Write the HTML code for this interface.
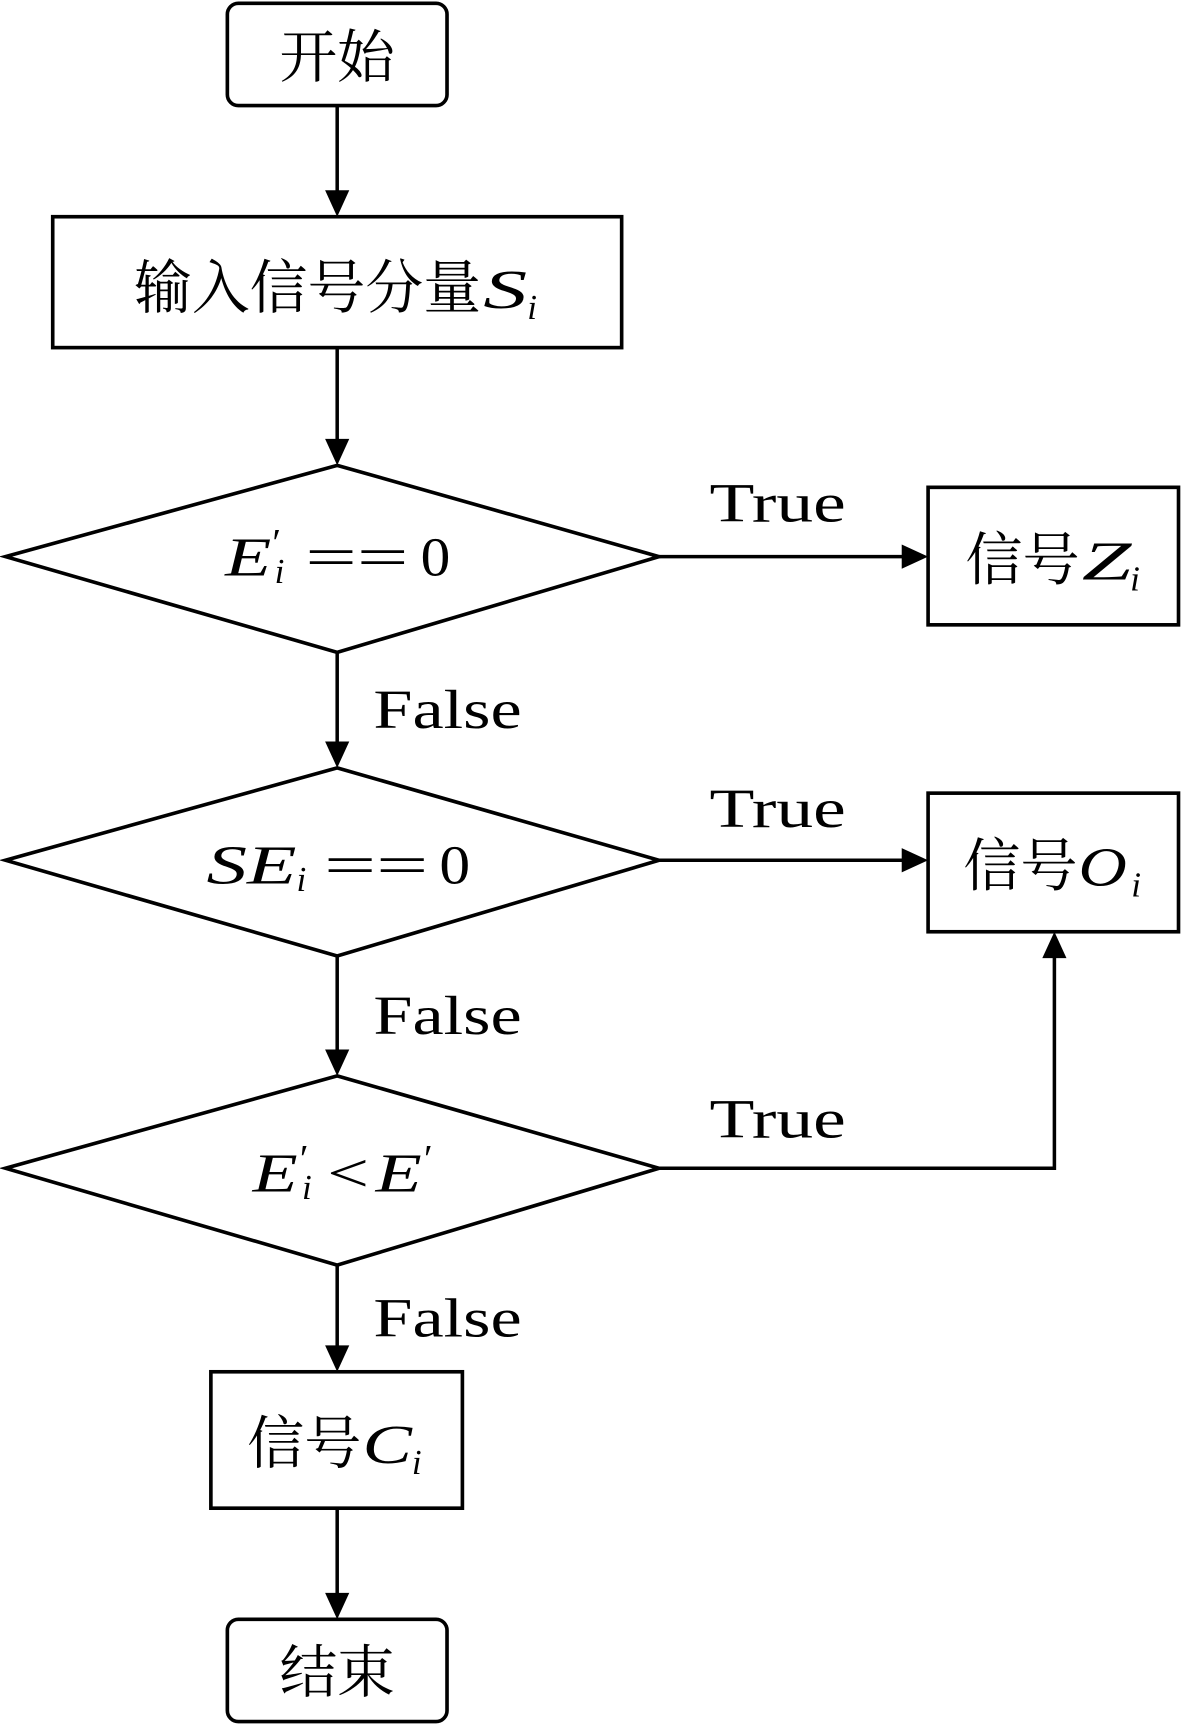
<!DOCTYPE html>
<html><head><meta charset="utf-8"><style>
html,body{margin:0;padding:0;background:#fff;}
svg{display:block;}
text{font-family:"Liberation Serif","Noto Serif CJK SC",serif;fill:#000;}
.i{font-style:italic;}
</style></head><body>
<svg width="1184" height="1726" viewBox="0 0 1078 1569" preserveAspectRatio="none" xmlns="http://www.w3.org/2000/svg">
<g fill="none" stroke="#000" stroke-width="3.3">
<rect x="207" y="3" width="200" height="93" rx="10"/>
<rect x="48" y="197" width="518" height="119"/>
<polygon points="307,423 600,506 307,593 5,506"/>
<rect x="845" y="443" width="228" height="125"/>
<polygon points="307,698 600,782 307,869 5,782"/>
<rect x="845" y="721" width="228" height="126"/>
<polygon points="307,978 600,1062 307,1150 5,1062"/>
<rect x="192" y="1247" width="229" height="124"/>
<rect x="207" y="1472" width="200" height="93" rx="10"/>
</g>
<g stroke="#000" stroke-width="3.2">
<line x1="307" y1="96" x2="307" y2="175"/>
<line x1="307" y1="316" x2="307" y2="401"/>
<line x1="600" y1="506" x2="823" y2="506"/>
<line x1="307" y1="593" x2="307" y2="676"/>
<line x1="600" y1="782" x2="823" y2="782"/>
<line x1="307" y1="869" x2="307" y2="956"/>
<polyline points="600,1062 960,1062 960,869" fill="none"/>
<line x1="307" y1="1150" x2="307" y2="1225"/>
<line x1="307" y1="1371" x2="307" y2="1450"/>
</g>
<g fill="#000">
<path d="M296,173 L318,173 L307,197z"/>
<path d="M296,399 L318,399 L307,423z"/>
<path d="M821,495 L821,517 L845,506z"/>
<path d="M296,674 L318,674 L307,698z"/>
<path d="M821,771 L821,793 L845,782z"/>
<path d="M296,954 L318,954 L307,978z"/>
<path d="M949,871 L971,871 L960,847z"/>
<path d="M296,1223 L318,1223 L307,1247z"/>
<path d="M296,1448 L318,1448 L307,1472z"/>
</g>
<!-- CJK -->
<g font-size="52">
<text x="307" y="70" text-anchor="middle" textLength="105" lengthAdjust="spacingAndGlyphs">开始</text>
<text x="307" y="1538" text-anchor="middle" textLength="105" lengthAdjust="spacingAndGlyphs">结束</text>
<text x="122" y="280" font-size="53" textLength="316" lengthAdjust="spacingAndGlyphs">输入信号分量</text>
<text x="879" y="527" textLength="104" lengthAdjust="spacingAndGlyphs">信号</text>
<text x="877" y="805" textLength="104" lengthAdjust="spacingAndGlyphs">信号</text>
<text x="225" y="1330" textLength="104" lengthAdjust="spacingAndGlyphs">信号</text>
</g>
<!-- Latin/math -->
<g font-size="50">
<text class="i" x="440" y="280" textLength="40" lengthAdjust="spacingAndGlyphs">S</text>
<text class="i" x="480" y="290" font-size="32">i</text>
<text class="i" x="985" y="527" textLength="45" lengthAdjust="spacingAndGlyphs">Z</text>
<text class="i" x="1029" y="537" font-size="32">i</text>
<text class="i" x="982" y="805" textLength="44" lengthAdjust="spacingAndGlyphs">O</text>
<text class="i" x="1030" y="815" font-size="32">i</text>
<text class="i" x="330" y="1330" textLength="45" lengthAdjust="spacingAndGlyphs">C</text>
<text class="i" x="375" y="1340" font-size="32">i</text>

<text class="i" x="205" y="523" textLength="42" lengthAdjust="spacingAndGlyphs">E</text>
<text x="248" y="505" font-size="36">′</text>
<text class="i" x="250" y="530" font-size="32">i</text>
<text x="278" y="523" textLength="94" lengthAdjust="spacingAndGlyphs">==</text>
<text x="383" y="523" textLength="27" lengthAdjust="spacingAndGlyphs">0</text>

<text class="i" x="188" y="803" textLength="82" lengthAdjust="spacingAndGlyphs">SE</text>
<text class="i" x="270" y="810" font-size="32">i</text>
<text x="295" y="803" textLength="95" lengthAdjust="spacingAndGlyphs">==</text>
<text x="400" y="803" textLength="28" lengthAdjust="spacingAndGlyphs">0</text>

<text class="i" x="230" y="1083" textLength="41" lengthAdjust="spacingAndGlyphs">E</text>
<text x="273" y="1065" font-size="36">′</text>
<text class="i" x="275" y="1090" font-size="32">i</text>
<text x="298" y="1083" textLength="38" lengthAdjust="spacingAndGlyphs">&lt;</text>
<text class="i" x="342" y="1083" textLength="42" lengthAdjust="spacingAndGlyphs">E</text>
<text x="386" y="1065" font-size="36">′</text>

<text x="646" y="474" textLength="124" lengthAdjust="spacingAndGlyphs">True</text>
<text x="646" y="752" textLength="124" lengthAdjust="spacingAndGlyphs">True</text>
<text x="646" y="1034" textLength="124" lengthAdjust="spacingAndGlyphs">True</text>
<text x="340" y="662" textLength="135" lengthAdjust="spacingAndGlyphs">False</text>
<text x="340" y="940" textLength="135" lengthAdjust="spacingAndGlyphs">False</text>
<text x="340" y="1215" textLength="135" lengthAdjust="spacingAndGlyphs">False</text>
</g>
</svg>
</body></html>
